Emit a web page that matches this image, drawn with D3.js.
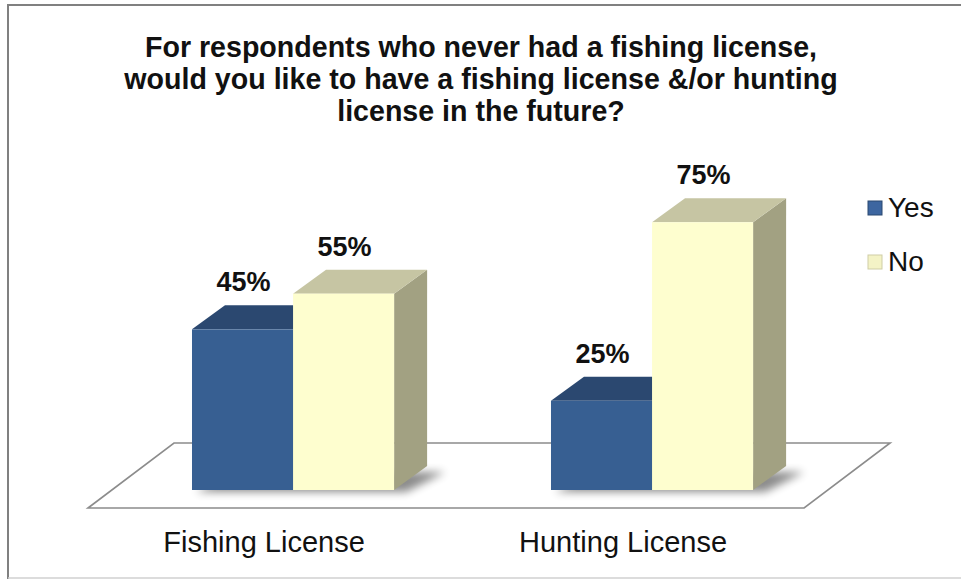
<!DOCTYPE html>
<html><head><meta charset="utf-8">
<script src="https://cdn.jsdelivr.net/npm/d3@7"></script>
<style>html,body{margin:0;padding:0;background:#fff;} svg{display:block;}</style>
</head><body>
<script>
// ---- data ----
const titleLines = [
  "For respondents who never had a fishing license,",
  "would you like to have a fishing license &/or hunting",
  "license in the future?"
];
const categories = ["Fishing License", "Hunting License"];
const series = ["Yes", "No"];
const yesValues = [45, 25];
const noValues = [55, 75];
const valueSuffix = "%";

// ---- layout ----
const W = 961, H = 579;
const font = "'Liberation Sans', Arial, Helvetica, sans-serif";
const svg = d3.select("body").append("svg").attr("width", W).attr("height", H);

const colors = {
  Yes: { front: "#375f92", top: "#2b4870", side: "#24405f" },
  No:  { front: "#fefecf", top: "#c6c5a3", side: "#a2a182" }
};
const dx = 33, dy = -24;

const x = d3.scaleBand().domain(categories).range([12.5, 932.6]).paddingInner(0.437).paddingOuter(0.5);
const xs = d3.scaleBand().domain(series).range([0, x.bandwidth()]);
const y = d3.scaleLinear().domain([0, 100]).range([490, 133]);

const rows = categories.map((c, i) => ({ cat: c, Yes: yesValues[i], No: noValues[i] }));

const defs = svg.append("defs");
defs.append("filter").attr("id", "blur").attr("x", "-20%").attr("y", "-50%").attr("width", "140%").attr("height", "200%")
  .append("feGaussianBlur").attr("stdDeviation", 4);

// frame
svg.append("path").attr("d", `M8,${H} L8,5 L${W},5`).attr("fill", "none").attr("stroke", "#808080").attr("stroke-width", 2);
svg.append("line").attr("x1", 8).attr("x2", W).attr("y1", 578).attr("y2", 578).attr("stroke", "#d0d0d0").attr("stroke-width", 1.5);

// title
svg.append("g").selectAll("text").data(titleLines).join("text")
  .attr("x", 481).attr("y", (d, i) => 57 + i * 32)
  .attr("text-anchor", "middle").attr("font-family", font).attr("font-weight", "bold")
  .attr("font-size", 28.6).attr("fill", "#111").text(d => d);

// floor
const y0 = y(0);
const fx0 = x(categories[0]) - 104;
const fx1 = x(categories[categories.length - 1]) + x.bandwidth() + 51;
const floorBackY = y0 - 47, floorFrontY = y0 + 18, floorShift = 86;
svg.append("polygon")
  .attr("points", [[fx0, floorFrontY], [fx0 + floorShift, floorBackY], [fx1 + floorShift, floorBackY], [fx1, floorFrontY]].map(p => p.join(",")).join(" "))
  .attr("fill", "#fff").attr("stroke", "#8c8c8c").attr("stroke-width", 1.6);

// shadows
svg.append("g").selectAll("polygon").data(rows).join("polygon")
  .attr("points", d => {
    const a = x(d.cat), b = x(d.cat) + x.bandwidth();
    const pts = [[a + 4, y0 + 2], [b + 12, y0 + 2], [b + dx + 18, y0 + dy + 6], [a + dx + 10, y0 + dy + 6]];
    return pts.map(p => p.join(",")).join(" ");
  })
  .attr("fill", "#000").attr("opacity", 0.45).attr("filter", "url(#blur)");

// bars
const bars = [];
rows.forEach(r => series.forEach(s => bars.push({ cat: r.cat, s, v: r[s] })));
const barG = svg.append("g").selectAll("g").data(bars).join("g");
barG.each(function (d) {
  const g = d3.select(this);
  const a = x(d.cat) + xs(d.s), b = a + xs.bandwidth();
  const t = y(d.v), bot = y(0);
  const c = colors[d.s];
  g.append("polygon").attr("points", [[b, t], [b + dx, t + dy], [b + dx, bot + dy], [b, bot]].map(p => p.join(",")).join(" "))
    .attr("fill", c.side);
  g.append("polygon").attr("points", [[a, t], [a + dx, t + dy], [b + dx, t + dy], [b, t]].map(p => p.join(",")).join(" "))
    .attr("fill", c.top);
  g.append("rect").attr("x", a).attr("y", t).attr("width", b - a).attr("height", bot - t).attr("fill", c.front);
});

// value labels
svg.append("g").selectAll("text").data(bars).join("text")
  .attr("x", d => x(d.cat) + xs(d.s) + xs.bandwidth() / 2 + 1)
  .attr("y", d => y(d.v) - 38)
  .attr("text-anchor", "middle").attr("font-family", font).attr("font-weight", "bold")
  .attr("font-size", 27).attr("fill", "#111").text(d => d.v + valueSuffix);

// category labels
svg.append("g").selectAll("text").data(categories).join("text")
  .attr("x", d => x(d) + x.bandwidth() / 2 - 29).attr("y", 552)
  .attr("text-anchor", "middle").attr("font-family", font)
  .attr("font-size", 29).attr("fill", "#111").text(d => d);

// legend
const leg = svg.append("g").selectAll("g").data(series).join("g")
  .attr("transform", (d, i) => `translate(868,${201 + i * 54})`);
leg.append("rect").attr("width", 14).attr("height", 14)
  .attr("fill", d => d === "Yes" ? "#3d66a0" : "#f4f3c6")
  .attr("stroke", d => d === "Yes" ? "#2b4870" : "#cfcda6").attr("stroke-width", 1);
leg.append("text").attr("x", 20).attr("y", 16).attr("font-family", font)
  .attr("font-size", 28).attr("fill", "#111").text(d => d);
</script>
</body></html>
